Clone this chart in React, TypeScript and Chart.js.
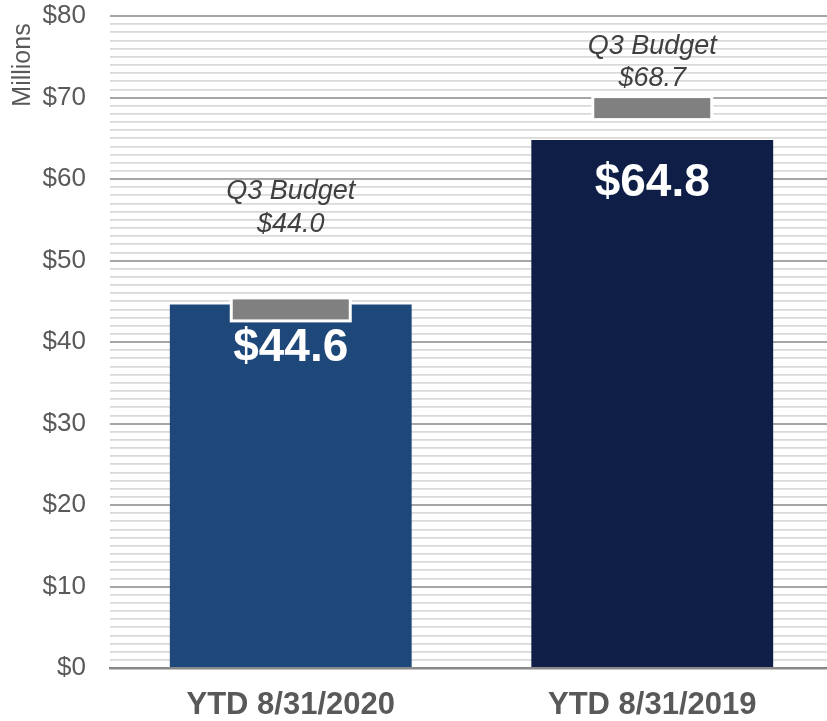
import React, { useEffect, useRef } from "react";
import { Chart, registerables } from "chart.js";

Chart.register(...registerables);

const categories = ["YTD 8/31/2020", "YTD 8/31/2019"];
const actualValues = [44.6, 64.8];
const budgetValues = [44.0, 68.7];
const valueLabels = ["$44.6", "$64.8"];
const budgetLabels = ["$44.0", "$68.7"];
const budgetTitle = "Q3 Budget";
const yTickLabels = ["$0", "$10", "$20", "$30", "$40", "$50", "$60", "$70", "$80"];
const yAxisTitle = "Millions";
const barColors = ["#1F487A", "#0E1E47"];

const FONT = "'Liberation Sans', Arial, sans-serif";

const overlayPlugin = {
  id: "overlay",
  afterDatasetsDraw(chart: any) {
    const { ctx, scales } = chart;
    const x = scales.x;
    const y = scales.y;
    const meta = chart.getDatasetMeta(0);
    ctx.save();
    // value labels inside bars
    ctx.fillStyle = "#ffffff";
    ctx.font = `bold 46px ${FONT}`;
    ctx.textAlign = "center";
    ctx.textBaseline = "alphabetic";
    meta.data.forEach((bar: any, i: number) => {
      ctx.fillText(valueLabels[i], bar.x, bar.y + 56);
    });
    // budget markers
    const lift = [[110, 77], [54, 22]];
    budgetValues.forEach((v, i) => {
      const cx = x.getPixelForValue(i);
      const cy = y.getPixelForValue(v);
      const w = 116;
      const h = 20;
      ctx.fillStyle = "#ffffff";
      ctx.fillRect(cx - w / 2 - 3, cy - h / 2 - 3, w + 6, h + 6);
      ctx.fillStyle = "#808080";
      ctx.fillRect(cx - w / 2, cy - h / 2, w, h);
      ctx.fillStyle = "#404040";
      ctx.font = `italic 27px ${FONT}`;
      ctx.textAlign = "center";
      ctx.fillText(budgetTitle, cx, cy - lift[i][0]);
      ctx.fillText(budgetLabels[i], cx, cy - lift[i][1]);
    });
    // y axis title
    ctx.save();
    ctx.translate(30, 65);
    ctx.rotate(-Math.PI / 2);
    ctx.fillStyle = "#595959";
    ctx.font = `25px ${FONT}`;
    ctx.textAlign = "center";
    ctx.fillText(yAxisTitle, 0, 0);
    ctx.restore();
    ctx.restore();
  },
};

export default function App() {
  const ref = useRef<HTMLCanvasElement>(null);
  useEffect(() => {
    document.body.style.margin = "0";
    document.body.style.overflow = "hidden";
    const chart = new Chart(ref.current!, {
      type: "bar",
      data: {
        labels: categories,
        datasets: [
          {
            data: actualValues,
            backgroundColor: barColors,
            borderWidth: 0,
            barPercentage: 0.669,
            categoryPercentage: 1,
          },
        ],
      },
      options: {
        responsive: false,
        animation: false,
        events: [],
        layout: { padding: { top: 16, right: 0, left: 0, bottom: 0 } },
        plugins: {
          legend: { display: false },
          tooltip: { enabled: false },
          title: { display: false },
        },
        scales: {
          x: {
            grid: { display: false, drawTicks: false },
            border: { display: true, color: "#898989", width: 2.5 },
            ticks: {
              color: "#595959",
              font: { family: FONT, size: 31, weight: "bold" },
              padding: 19,
            },
            afterFit: (s: any) => {
              s.height = 53;
              s.paddingLeft = 0;
              s.paddingRight = 0;
            },
          },
          y: {
            min: 0,
            max: 80,
            border: { display: false },
            grid: {
              drawTicks: false,
              color: (c: any) => (c.tick.value % 10 === 0 ? "#a6a6a6" : "#d9d9d9"),
              lineWidth: (c: any) => (c.tick.value % 10 === 0 ? 2 : 1.7),
            },
            ticks: {
              stepSize: 1,
              maxTicksLimit: 100,
              autoSkip: false,
              padding: 24,
              color: "#595959",
              font: { family: FONT, size: 26 },
              callback: (v: any) => (Number(v) % 10 === 0 ? yTickLabels[Number(v) / 10] : ""),
            },
            afterFit: (s: any) => {
              s.width = 110;
              s.paddingTop = 0;
              s.paddingBottom = 0;
            },
          },
        },
      },
      plugins: [overlayPlugin],
    });
    return () => chart.destroy();
  }, []);
  return <canvas ref={ref} width={833} height={721} style={{ display: "block" }} />;
}
